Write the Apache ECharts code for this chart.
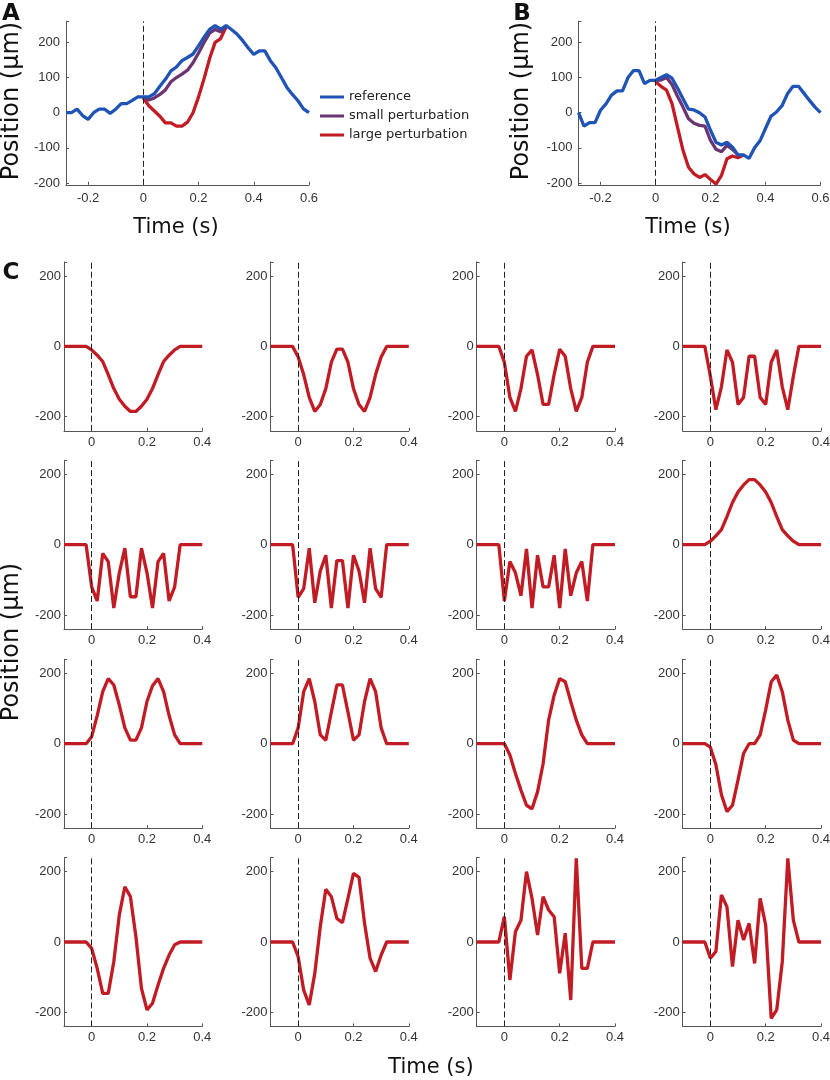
<!DOCTYPE html>
<html>
<head>
<meta charset="utf-8">
<script src="https://cdn.jsdelivr.net/npm/echarts@6/dist/echarts.min.js"></script>
<style>
  html, body { margin: 0; background: #fff; }
  #chart { width: 830px; height: 1080px; }
</style>
</head>
<body>
<div id="chart"></div>
<script>
// time bases (s)
const tAB = [-0.28, -0.26, -0.24, -0.22, -0.2, -0.18, -0.16, -0.14, -0.12, -0.1, -0.08, -0.06, -0.04, -0.02,
  0, 0.02, 0.04, 0.06, 0.08, 0.1, 0.12, 0.14, 0.16, 0.18, 0.2, 0.22, 0.24, 0.26, 0.28, 0.3,
  0.32, 0.34, 0.36, 0.38, 0.4, 0.42, 0.44, 0.46, 0.48, 0.5, 0.52, 0.54, 0.56, 0.58, 0.6];
const tPert = [0, 0.02, 0.04, 0.06, 0.08, 0.1, 0.12, 0.14, 0.16, 0.18, 0.2, 0.22, 0.24, 0.26, 0.28, 0.3, 0.32];
const tC = [-0.1, -0.08, -0.06, -0.04, -0.02, 0, 0.02, 0.04, 0.06, 0.08, 0.1, 0.12, 0.14, 0.16, 0.18, 0.2,
  0.22, 0.24, 0.26, 0.28, 0.3, 0.32, 0.34, 0.36, 0.38, 0.4];

// panel A (um)
const refA = [0, 0, 10, -8, -19, 0, 10, 10, -2, 10, 26, 26, 35, 45,
  45, 45, 54, 75, 95, 119, 130, 148, 157, 167, 190, 215, 237, 248, 238, 248,
  236, 223, 205, 184, 166, 176, 176, 148, 128, 100, 72, 52, 34, 11, 0];
const smallA = [45, 36, 42, 52, 65, 88, 100, 110, 121, 142, 170, 200, 226, 237, 230, 248];
const largeA = [42, 20, 5, -10, -29, -29, -38, -38, -27, 0, 45, 97, 154, 200, 211, 245];

// panel B (um)
const refB = [0, -38, -28, -28, 7, 25, 50, 62, 62, 100, 120, 120, 83, 92,
  92, 100, 108, 98, 70, 40, 10, 8, 0, -12, -50, -84, -92, -84, -98, -120,
  -120, -130, -100, -80, -45, -10, 2, 20, 54, 75, 75, 55, 35, 16, 0];
const smallB = [92, 93, 100, 80, 47, 16, -17, -30, -36, -38, -79, -104, -111, -93, -104, -120];
const largeB = [88, 75, 64, 26, -41, -107, -155, -174, -184, -176, -190, -203, -178, -131, -123, -128, -120];

// panel C perturbations (um), rows left to right
const c1 = [0, 0, 0, 0, 0, -10, -25, -43, -80, -120, -150, -170, -185, -185, -170, -150, -120, -80, -43, -25, -10, 0, 0, 0, 0, 0];
const c2 = [0, 0, 0, 0, 0, -30, -80, -145, -185, -165, -120, -45, -8, -8, -45, -120, -165, -185, -145, -80, -30, 0, 0, 0, 0, 0];
const c3 = [0, 0, 0, 0, 0, -45, -145, -185, -120, -28, -10, -80, -165, -165, -80, -8, -28, -120, -185, -145, -45, 0, 0, 0, 0, 0];
const c4 = [0, 0, 0, 0, 0, -85, -180, -115, -10, -45, -165, -145, -28, -28, -145, -165, -45, -10, -115, -180, -85, 0, 0, 0, 0, 0];
const c5 = [0, 0, 0, 0, 0, -120, -160, -25, -48, -180, -80, -10, -148, -148, -10, -80, -180, -48, -25, -160, -120, 0, 0, 0, 0, 0];
const c6 = [0, 0, 0, 0, 0, -150, -125, -10, -165, -75, -30, -180, -45, -45, -180, -30, -75, -165, -10, -125, -150, 0, 0, 0, 0, 0];
const c7 = [0, 0, 0, 0, 0, -160, -48, -80, -145, -12, -180, -30, -120, -120, -30, -180, -12, -145, -80, -48, -160, 0, 0, 0, 0, 0];
const c8 = [0, 0, 0, 0, 0, 10, 25, 43, 80, 120, 150, 170, 185, 185, 170, 150, 120, 80, 43, 25, 10, 0, 0, 0, 0, 0];
const c9 = [0, 0, 0, 0, 0, 20, 80, 148, 185, 167, 110, 45, 10, 10, 45, 120, 165, 185, 148, 80, 25, 0, 0, 0, 0, 0];
const c10 = [0, 0, 0, 0, 0, 45, 148, 185, 120, 25, 10, 90, 167, 167, 90, 10, 25, 120, 185, 148, 45, 0, 0, 0, 0, 0];
const c11 = [0, 0, 0, 0, 0, 0, -32, -85, -132, -175, -185, -137, -57, 67, 138, 185, 176, 120, 67, 25, 0, 0, 0, 0, 0, 0];
const c12 = [0, 0, 0, 0, 0, -10, -60, -145, -193, -175, -103, -28, 0, 0, 25, 96, 176, 195, 148, 67, 10, 0, 0, 0, 0, 0];
const c13 = [0, 0, 0, 0, 0, -18, -75, -146, -146, -56, 77, 157, 129, 15, -132, -193, -174, -122, -75, -37, -8, 0, 0, 0, 0, 0];
const c14 = [0, 0, 0, 0, 0, -42, -137, -179, -90, 44, 150, 129, 67, 55, 124, 195, 184, 53, -46, -84, -37, 0, 0, 0, 0, 0];
const c15 = [0, 0, 0, 0, 0, 72, -108, 29, 62, 200, 124, 20, 129, 91, 72, -89, 25, -165, 238, -75, -75, 0, 0, 0, 0, 0];
const c16 = [0, 0, 0, 0, 0, -46, -27, 134, 100, -70, 62, 6, 53, -61, 124, 48, -217, -193, -56, 238, 62, 0, 0, 0, 0, 0];
const cAll = [c1, c2, c3, c4, c5, c6, c7, c8, c9, c10, c11, c12, c13, c14, c15, c16];

const BLUE = '#1f54b6';
const PURPLE = '#6b3573';
const RED = '#c11b24';
const AXIS = '#555';
const TICKFONT = 'Liberation Sans, Arial, sans-serif';
const TITLEFONT = 'DejaVu Sans, sans-serif';

const pairs = (ts, vs) => vs.map((v, i) => [ts[i], v]);

// show only labels at multiples of step (hides the min/max edge ticks)
const onStep = step => v => {
    const k = v / step;
    if (Math.abs(k - Math.round(k)) > 1e-6) return '';
    return String(parseFloat((Math.round(k) * step).toFixed(2)));
};

function xAx(gi, min, max, split, margin) {
    return {
        type: 'value', gridIndex: gi, min: min, max: max, splitNumber: split,
        axisLine: { show: true, onZero: false, lineStyle: { color: AXIS, width: 1 } },
        axisTick: { show: true, inside: true, length: 3, lineStyle: { color: AXIS } },
        axisLabel: { color: '#333', fontSize: 13, fontFamily: TICKFONT, margin: margin, formatter: onStep(0.2) },
        splitLine: { show: false }
    };
}
function yAx(gi, min, max, split, step, margin) {
    return {
        type: 'value', gridIndex: gi, min: min, max: max, splitNumber: split,
        axisLine: { show: true, onZero: false, lineStyle: { color: AXIS, width: 1 } },
        axisTick: { show: true, inside: true, length: 3, lineStyle: { color: AXIS } },
        axisLabel: { color: '#333', fontSize: 13, fontFamily: TICKFONT, margin: margin, formatter: onStep(step) },
        splitLine: { show: false }
    };
}
function zeroLine() {
    return {
        silent: true, symbol: ['none', 'none'], animation: false,
        label: { show: false },
        lineStyle: { type: [6, 3], color: '#222', width: 1 },
        data: [{ xAxis: 0 }]
    };
}
function lineSeries(name, gi, data, color, withMark) {
    const s = {
        name: name, type: 'line', xAxisIndex: gi, yAxisIndex: gi, data: data,
        showSymbol: false, symbol: 'none', clip: true,
        lineStyle: { color: color, width: 3.3 }, itemStyle: { color: color }
    };
    if (withMark) s.markLine = zeroLine();
    return s;
}

const grids = [];
const xAxes = [];
const yAxes = [];
const series = [];

// A and B
grids.push({ left: 66, top: 21.3, width: 243, height: 163.5, outerBoundsMode: 'none' });
grids.push({ left: 578.5, top: 21.3, width: 242, height: 163.5, outerBoundsMode: 'none' });
[0, 1].forEach(gi => {
    xAxes.push(xAx(gi, -0.28, 0.6, 5, 7));
    yAxes.push(yAx(gi, -205, 260, 5, 100, 6));
});
series.push(lineSeries('large perturbation', 0, pairs(tPert, largeA), RED, true));
series.push(lineSeries('small perturbation', 0, pairs(tPert, smallA), PURPLE, false));
series.push(lineSeries('reference', 0, pairs(tAB, refA), BLUE, false));
series.push(lineSeries('large perturbation', 1, pairs(tPert, largeB), RED, true));
series.push(lineSeries('small perturbation', 1, pairs(tPert, smallB), PURPLE, false));
series.push(lineSeries('reference', 1, pairs(tAB, refB), BLUE, false));

// C: 4x4 small multiples
const colLeft = [64, 270.5, 476.7, 682.7];
const rowTop = [262, 460.3, 659.3, 857.6];
cAll.forEach((vals, k) => {
    const gi = k + 2;
    grids.push({ left: colLeft[k % 4], top: rowTop[Math.floor(k / 4)], width: 138.3, height: 168.8, outerBoundsMode: 'none' });
    xAxes.push(xAx(gi, -0.1, 0.4, 3, 5));
    yAxes.push(yAx(gi, -240, 240, 2, 200, 3));
    series.push(lineSeries('c' + (k + 1), gi, pairs(tC, vals), RED, true));
});

function txt(x, y, text, size, weight, rot) {
    return {
        type: 'text', x: x, y: y, rotation: rot || 0, silent: true,
        style: {
            text: text, fill: '#111', font: (weight || 'normal') + ' ' + size + 'px ' + TITLEFONT,
            textAlign: 'center', textVerticalAlign: 'middle'
        }
    };
}

const chart = echarts.init(document.getElementById('chart'), null, { renderer: 'canvas' });
chart.setOption({
    animation: false,
    backgroundColor: '#fff',
    grid: grids,
    xAxis: xAxes,
    yAxis: yAxes,
    legend: {
        left: 315, top: 84, orient: 'vertical', selectedMode: false,
        itemWidth: 24, itemHeight: 3, itemGap: 3, icon: 'rect',
        textStyle: { fontFamily: TITLEFONT, fontSize: 13, color: '#222', lineHeight: 16 },
        data: ['reference', 'small perturbation', 'large perturbation']
    },
    series: series,
    graphic: [
        txt(11, 14, 'A', 23, 'bold'),
        txt(522, 14, 'B', 23, 'bold'),
        txt(11, 273, 'C', 23, 'bold'),
        txt(12, 101, 'Position (μm)', 24, 'normal', Math.PI / 2),
        txt(522, 101, 'Position (μm)', 24, 'normal', Math.PI / 2),
        txt(176, 228, 'Time (s)', 21),
        txt(688, 228, 'Time (s)', 21),
        txt(12, 642, 'Position (μm)', 24, 'normal', Math.PI / 2),
        txt(431, 1068, 'Time (s)', 21)
    ]
});
</script>
</body>
</html>
